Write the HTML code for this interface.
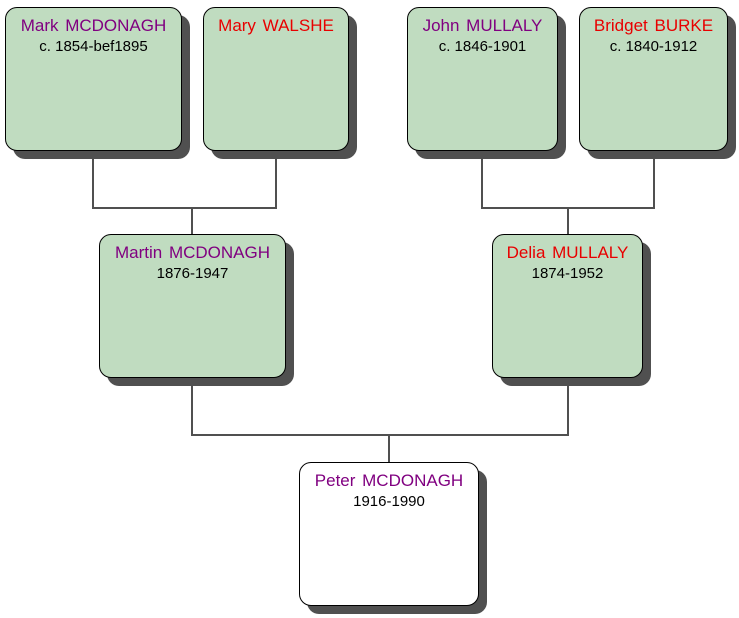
<!DOCTYPE html>
<html><head><style>
body{margin:0;width:739px;height:618px;background:#fff;position:relative;font-family:"Liberation Sans",Arial,sans-serif;overflow:hidden}
.b{position:absolute;background:#c0dcc0;border:1px solid #000;border-radius:12px;box-shadow:8px 8px 0 #505050;text-align:center;box-sizing:border-box}
.w{background:#fff}
.n{font-size:17px;margin-top:8px;line-height:19px;word-spacing:2px}
.d{font-size:15px;margin-top:3px;color:#000}
.p{color:#800080}.r{color:#e80000}
.l{position:absolute;background:#505050}
</style></head><body>
<div class="l" style="left:92px;top:150px;width:2px;height:59px"></div>
<div class="l" style="left:275px;top:150px;width:2px;height:59px"></div>
<div class="l" style="left:92px;top:207px;width:185px;height:2px"></div>
<div class="l" style="left:191px;top:207px;width:2px;height:28px"></div>
<div class="l" style="left:481px;top:150px;width:2px;height:59px"></div>
<div class="l" style="left:653px;top:150px;width:2px;height:59px"></div>
<div class="l" style="left:481px;top:207px;width:174px;height:2px"></div>
<div class="l" style="left:567px;top:207px;width:2px;height:28px"></div>
<div class="l" style="left:191px;top:377px;width:2px;height:59px"></div>
<div class="l" style="left:567px;top:377px;width:2px;height:59px"></div>
<div class="l" style="left:191px;top:434px;width:378px;height:2px"></div>
<div class="l" style="left:388px;top:434px;width:2px;height:29px"></div>

<div class="b" style="left:5px;top:7px;width:177px;height:144px"><div class="n p">Mark MCDONAGH</div><div class="d">c. 1854-bef1895</div></div>
<div class="b" style="left:203px;top:7px;width:146px;height:144px"><div class="n r">Mary WALSHE</div></div>
<div class="b" style="left:407px;top:7px;width:151px;height:144px"><div class="n p">John MULLALY</div><div class="d">c. 1846-1901</div></div>
<div class="b" style="left:579px;top:7px;width:149px;height:144px"><div class="n r">Bridget BURKE</div><div class="d">c. 1840-1912</div></div>
<div class="b" style="left:99px;top:234px;width:187px;height:144px"><div class="n p">Martin MCDONAGH</div><div class="d">1876-1947</div></div>
<div class="b" style="left:492px;top:234px;width:151px;height:144px"><div class="n r">Delia MULLALY</div><div class="d">1874-1952</div></div>
<div class="b w" style="left:299px;top:462px;width:180px;height:144px"><div class="n p">Peter MCDONAGH</div><div class="d">1916-1990</div></div>
</body></html>
